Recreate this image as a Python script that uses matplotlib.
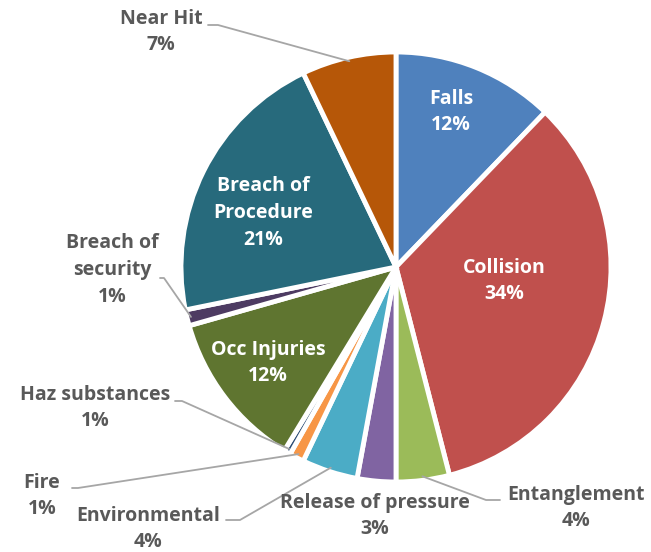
#!/usr/bin/python
#
# Incident categories pie chart (Excel style, labels placed by hand)

import numpy as np
import matplotlib
matplotlib.use("Agg")
import matplotlib.pyplot as plt

W, H = 651, 552

categories = ["Falls", "Collision", "Entanglement", "Release of pressure",
              "Environmental", "Fire", "Haz substances", "Occ Injuries",
              "Breach of\nsecurity", "Breach of\nProcedure", "Near Hit"]
shares = [12.2, 33.8, 4.0, 2.9, 4.2, 1.1, 0.5, 11.9, 1.2, 21.1, 7.1]
colors = ["#4F81BD", "#C0504D", "#9BBB59", "#8064A2", "#4BACC6", "#F79646",
          "#2C4D75", "#5F7530", "#4D3B62", "#276A7C", "#B65708"]

# label placement in image pixels (x, y from top); inside labels are white
inside = {"Falls", "Collision", "Occ Injuries", "Breach of\nProcedure"}
label_pos = {
    "Falls": (451, 112),
    "Collision": (504, 281),
    "Entanglement": (576, 508),
    "Release of pressure": (375, 516),
    "Environmental": (148, 529),
    "Fire": (42, 496),
    "Haz substances": (95, 408),
    "Occ Injuries": (268, 363),
    "Breach of\nsecurity": (112, 270),
    "Breach of\nProcedure": (263, 213),
    "Near Hit": (161, 32),
}
# leader lines: start of line near the label (image pixels)
leader_start = {
    "Near Hit": [(208, 25), (218, 25)],
    "Breach of\nsecurity": [(160, 278), (164, 278)],
    "Haz substances": [(175, 401), (182, 401)],
    "Fire": [(72, 488), (78, 488)],
    "Environmental": [(226, 520), (240, 520)],
    "Entanglement": [(500, 500), (486, 500)],
}

cx, cy, R = 396, H - 267, 215

fig = plt.figure(figsize=(W / 100, H / 100), dpi=100)
ax = fig.add_axes([0, 0, 1, 1])

wedges, _ = ax.pie(shares, colors=colors, startangle=90, counterclock=False,
                   center=(cx, cy), radius=R,
                   wedgeprops=dict(edgecolor="white", linewidth=3.5))
ax.set_xlim(0, W)
ax.set_ylim(0, H)
ax.set_aspect("equal")
ax.axis("off")

font = dict(family=["Open Sans", "DejaVu Sans"], fontweight="bold", fontsize=14)
for name, val, w in zip(categories, shares, wedges):
    x, y = label_pos[name]
    txt = f"{name}\n{int(val + 0.5)}%"
    col = "white" if name in inside else "#595959"
    ax.text(x, H - y, txt, ha="center", va="center", color=col,
            linespacing=1.45, **font)
    if name in leader_start:
        mid = np.deg2rad((w.theta1 + w.theta2) / 2)
        ex = cx + (R - 4) * np.cos(mid)
        ey = cy + (R - 4) * np.sin(mid)
        pts = [(px, H - py) for px, py in leader_start[name]] + [(ex, ey)]
        xs, ys = zip(*pts)
        ax.plot(xs, ys, color="#A6A6A6", lw=1.3, solid_capstyle="round")

fig.savefig("out.png", dpi=100, facecolor="white")
